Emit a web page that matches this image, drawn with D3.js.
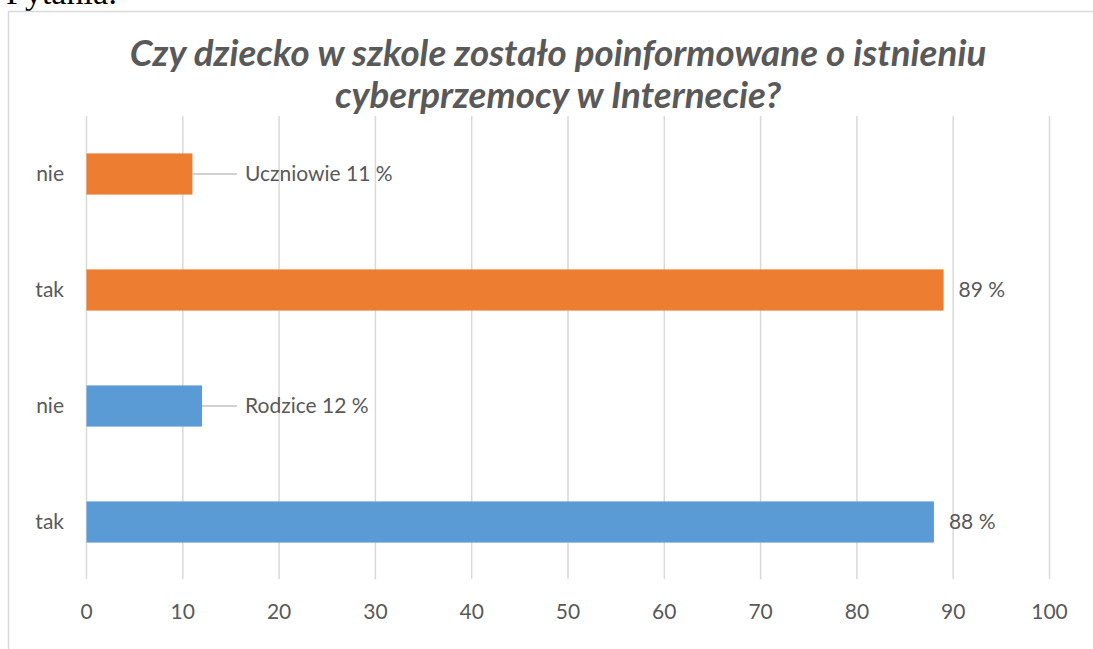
<!DOCTYPE html>
<html>
<head>
<meta charset="utf-8">
<script src="https://cdn.jsdelivr.net/npm/d3@7"></script>
<style>
    body { margin: 0; background: #fff; }
    svg { display: block; }
</style>
</head>
<body>
<svg width="1093" height="649"></svg>
<script>
// data, bottom to top
var categories = ["tak_r", "nie_r", "tak_u", "nie_u"]
var cat_labels = ["tak", "nie", "tak", "nie"]
var series_names = ["Rodzice", "Rodzice", "Uczniowie", "Uczniowie"]
var values = [88, 12, 89, 11]
var x_ticks = [0, 10, 20, 30, 40, 50, 60, 70, 80, 90, 100]
var title_lines = ["Czy dziecko w szkole zostało poinformowane o istnieniu",
    "cyberprzemocy w Internecie?"]

var colors = { "Rodzice": "#5B9BD5", "Uczniowie": "#ED7D31" }
var font = "Lato, 'Open Sans', sans-serif"
var text_color = "#595959"
var label_size = 21
var title_fs = 32

function setup_svg() {
    var svg = d3.select("svg")
    var plot = { left: 86.5, right: 1049.5, top: 116, bottom: 580 }
    return { svg, plot }
}

function draw_frame(svg) {
    // heading of the document above the chart, cut off by the crop
    svg.append("text")
        .attr("x", 6)
        .attr("y", 4)
        .attr("font-family", "'Liberation Serif', serif")
        .attr("font-size", 34)
        .attr("fill", "#000")
        .text("Pytania:")

    svg.append("rect")
        .attr("x", 8.5)
        .attr("y", 11.5)
        .attr("width", 1100)
        .attr("height", 700)
        .attr("fill", "#fff")
        .attr("stroke", "#d9d9d9")
        .attr("stroke-width", 1.5)
}

function draw_title(svg) {
    var ys = [66, 108]
    title_lines.forEach(function (line, i) {
        var t = svg.append("text")
            .attr("x", 558)
            .attr("y", ys[i])
            .attr("text-anchor", "middle")
            .attr("font-family", font)
            .attr("font-weight", "bold")
            .attr("font-style", "italic")
            .attr("font-size", 32)
            .attr("fill", text_color)
            .text(line)
        // fit the first line to the width seen in the picture
        if (i == 0) {
            title_fs = 32 * 857 / t.node().getComputedTextLength()
        }
        t.attr("font-size", title_fs)
    })
}

function draw_chart(svg, plot) {
    var x_scale = d3.scaleLinear()
        .domain([0, 100])
        .range([plot.left, plot.right])

    var y_scale = d3.scaleBand()
        .domain(categories)
        .range([plot.bottom, plot.top])
        .paddingInner(0.645)
        .paddingOuter(0.3225)

    // gridlines
    svg.append("g")
        .selectAll("line")
        .data(x_ticks)
        .enter().append("line")
        .attr("x1", function (d) { return x_scale(d) })
        .attr("x2", function (d) { return x_scale(d) })
        .attr("y1", plot.top)
        .attr("y2", plot.bottom - 1)
        .attr("stroke", "#d9d9d9")
        .attr("stroke-width", 1.5)

    // tick labels
    svg.append("g")
        .selectAll("text")
        .data(x_ticks)
        .enter().append("text")
        .attr("x", function (d) { return x_scale(d) })
        .attr("y", 619)
        .attr("text-anchor", "middle")
        .attr("font-family", font)
        .attr("font-size", label_size)
        .attr("fill", text_color)
        .text(function (d) { return d })

    // category labels
    svg.append("g")
        .selectAll("text")
        .data(categories)
        .enter().append("text")
        .attr("x", 64)
        .attr("y", function (d) { return y_scale(d) + y_scale.bandwidth() / 2 })
        .attr("dy", "0.35em")
        .attr("text-anchor", "end")
        .attr("font-family", font)
        .attr("font-size", label_size)
        .attr("fill", text_color)
        .text(function (d, i) { return cat_labels[i] })

    // bars
    svg.append("g")
        .selectAll("rect")
        .data(values)
        .enter().append("rect")
        .attr("x", x_scale(0))
        .attr("y", function (d, i) { return y_scale(categories[i]) })
        .attr("width", function (d) { return x_scale(d) - x_scale(0) })
        .attr("height", y_scale.bandwidth())
        .attr("fill", function (d, i) { return colors[series_names[i]] })

    // data labels
    values.forEach(function (d, i) {
        var cy = y_scale(categories[i]) + y_scale.bandwidth() / 2
        var x_end = x_scale(d)
        var is_nie = cat_labels[i] == "nie"
        var lx = is_nie ? 245 : x_end + 15
        if (is_nie) {
            svg.append("line")
                .attr("x1", x_end)
                .attr("x2", 237)
                .attr("y1", cy)
                .attr("y2", cy)
                .attr("stroke", "#a6a6a6")
                .attr("stroke-width", 1.2)
        }
        svg.append("text")
            .attr("x", lx)
            .attr("y", cy)
            .attr("dy", "0.35em")
            .attr("font-family", font)
            .attr("font-size", label_size)
            .attr("fill", text_color)
            .text((is_nie ? series_names[i] + " " : "") + d + " %")
    })
}

var { svg, plot } = setup_svg()
draw_frame(svg)
draw_title(svg)
draw_chart(svg, plot)
</script>
</body>
</html>
